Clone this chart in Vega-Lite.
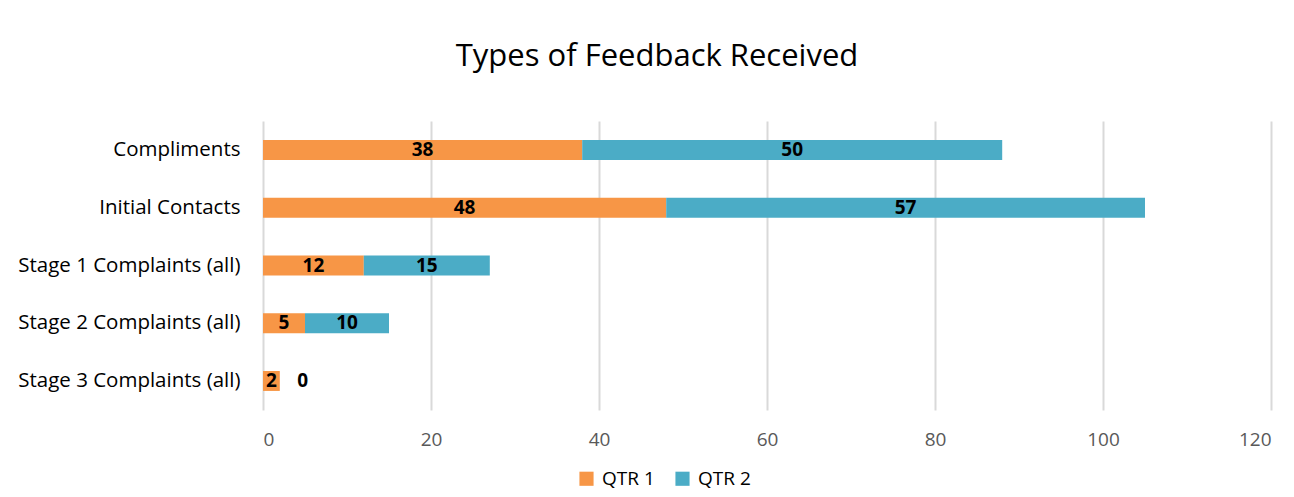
{
  "$schema": "https://vega.github.io/schema/vega-lite/v6.json",
  "width": 1008,
  "height": 289,
  "autosize": {"type": "none"},
  "padding": {"left": 263, "top": 121, "right": 23, "bottom": 87},
  "background": "white",
  "title": {
    "text": "Types of Feedback Received",
    "font": "Open Sans",
    "fontSize": 31,
    "fontWeight": "normal",
    "color": "#000000",
    "anchor": "middle",
    "dx": -110,
    "baseline": "alphabetic",
    "offset": 24
  },
  "data": {
    "values": [
      {"category": "Compliments", "quarter": "QTR 1", "value": 38, "ord": 1},
      {"category": "Compliments", "quarter": "QTR 2", "value": 50, "ord": 2},
      {"category": "Initial Contacts", "quarter": "QTR 1", "value": 48, "ord": 1},
      {"category": "Initial Contacts", "quarter": "QTR 2", "value": 57, "ord": 2},
      {"category": "Stage 1 Complaints (all)", "quarter": "QTR 1", "value": 12, "ord": 1},
      {"category": "Stage 1 Complaints (all)", "quarter": "QTR 2", "value": 15, "ord": 2},
      {"category": "Stage 2 Complaints (all)", "quarter": "QTR 1", "value": 5, "ord": 1},
      {"category": "Stage 2 Complaints (all)", "quarter": "QTR 2", "value": 10, "ord": 2},
      {"category": "Stage 3 Complaints (all)", "quarter": "QTR 1", "value": 2, "ord": 1},
      {"category": "Stage 3 Complaints (all)", "quarter": "QTR 2", "value": 0, "ord": 2}
    ]
  },
  "transform": [
    {"stack": "value", "groupby": ["category"], "sort": [{"field": "ord", "order": "ascending"}], "as": ["v0", "v1"]},
    {"calculate": "(datum.v0 + datum.v1) / 2", "as": "mid"}
  ],
  "encoding": {
    "y": {
      "field": "category",
      "type": "nominal",
      "sort": ["Compliments", "Initial Contacts", "Stage 1 Complaints (all)", "Stage 2 Complaints (all)", "Stage 3 Complaints (all)"],
      "scale": {"paddingInner": 0.655, "paddingOuter": 0.33},
      "axis": {
        "title": null,
        "ticks": false,
        "domain": false,
        "labelFont": "Open Sans",
        "labelFontSize": 20.5,
        "labelColor": "#000000",
        "labelPadding": 23,
        "labelLimit": 0
      }
    }
  },
  "layer": [
    {
      "mark": {"type": "bar"},
      "encoding": {
        "x": {
          "field": "v0",
          "type": "quantitative",
          "scale": {"domain": [0, 120]},
          "axis": {
            "title": null,
            "values": [0, 20, 40, 60, 80, 100, 120],
            "ticks": false,
            "domain": false,
            "grid": true,
            "gridColor": "#d9d9d9",
            "gridWidth": 2,
            "labelFont": "Open Sans",
            "labelFontSize": 19,
            "labelColor": "#595959",
            "labelPadding": 20
          }
        },
        "x2": {"field": "v1"},
        "color": {
          "field": "quarter",
          "type": "nominal",
          "scale": {"domain": ["QTR 1", "QTR 2"], "range": ["#F79646", "#4BACC6"]},
          "legend": {
            "title": null,
            "orient": "none",
            "direction": "horizontal",
            "legendX": 314,
            "legendY": 348,
            "symbolType": "square",
            "symbolSize": 200,
            "symbolStrokeWidth": 0,
            "labelFont": "Open Sans",
            "labelFontSize": 19,
            "labelColor": "#000000",
            "columnPadding": 18,
            "labelOffset": 6
          }
        }
      }
    },
    {
      "transform": [{"filter": "datum.value > 0"}],
      "mark": {"type": "text", "font": "Open Sans", "fontSize": 19, "fontWeight": "bold", "color": "#000000"},
      "encoding": {
        "x": {"field": "mid", "type": "quantitative"},
        "text": {"field": "value", "type": "quantitative"}
      }
    },
    {
      "transform": [{"filter": "datum.value == 0"}],
      "mark": {"type": "text", "font": "Open Sans", "fontSize": 19, "fontWeight": "bold", "color": "#000000", "dx": 23},
      "encoding": {
        "x": {"field": "mid", "type": "quantitative"},
        "text": {"field": "value", "type": "quantitative"}
      }
    }
  ],
  "config": {"view": {"stroke": null}}
}
